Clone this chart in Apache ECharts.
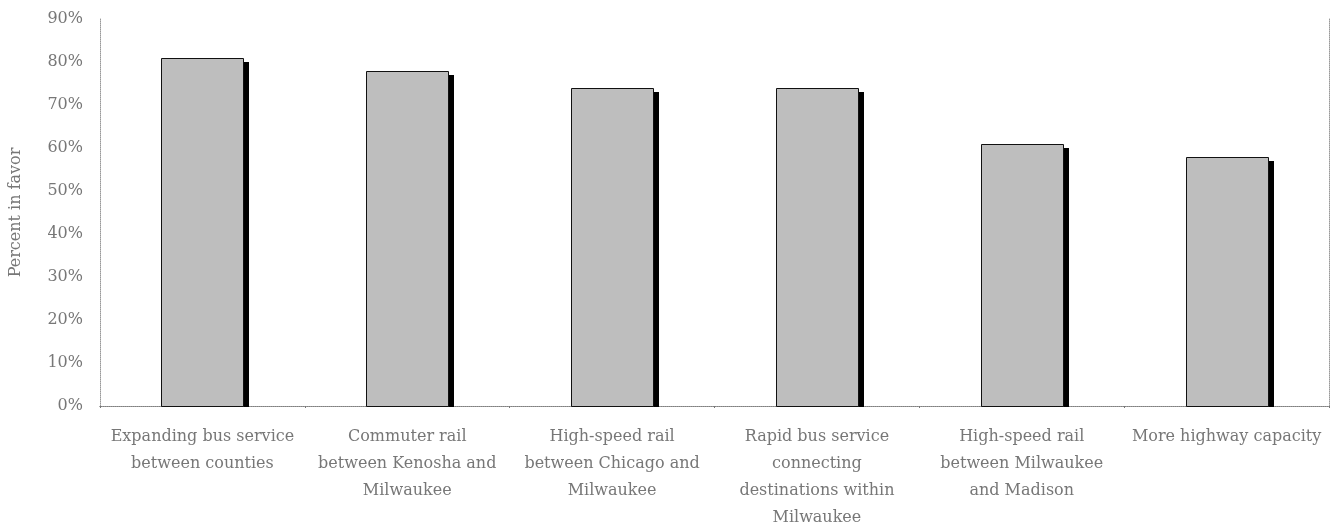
<!DOCTYPE html>
<html>
<head>
<meta charset="utf-8">
<script src="https://cdn.jsdelivr.net/npm/echarts@6/dist/echarts.min.js"></script>
<style>
  html, body { margin: 0; padding: 0; background: #fff; }
  #chart { width: 1336px; height: 531px; }
</style>
</head>
<body>
<div id="chart"></div>
<script>
// Support for transportation options
const categories = [
  'Expanding bus service\nbetween counties',
  'Commuter rail\nbetween Kenosha and\nMilwaukee',
  'High-speed rail\nbetween Chicago and\nMilwaukee',
  'Rapid bus service\nconnecting\ndestinations within\nMilwaukee',
  'High-speed rail\nbetween Milwaukee\nand Madison',
  'More highway capacity'
];
const percentInFavor = [81, 78, 74, 74, 61, 58];
const yTicks = [0, 10, 20, 30, 40, 50, 60, 70, 80, 90];

const serif = '"DejaVu Serif", "Liberation Serif", serif';
const textColor = '#777';

// Bar with a hard black drop shadow on its right side
function renderBar(params, api) {
  const idx = api.value(0);
  const val = api.value(1);
  const top = api.coord([idx, val]);
  const base = api.coord([idx, 0]);
  const w = api.size([1, 0])[0] * 0.4;
  const x0 = Math.round(top[0] - w / 2);
  const y0 = Math.round(top[1]);
  const h = Math.round(base[1]) - y0;
  const bw = Math.round(w);
  return {
    type: 'group',
    children: [{
      type: 'rect',
      shape: { x: x0 + 6, y: y0 + 4, width: bw, height: h - 3 },
      style: { fill: '#000' }
    }, {
      type: 'rect',
      shape: { x: x0 + 0.5, y: y0 + 0.5, width: bw, height: h },
      style: { fill: '#bebebe', stroke: '#111', lineWidth: 1 }
    }]
  };
}

const chart = echarts.init(document.getElementById('chart'));
chart.setOption({
  animation: false,
  grid: { left: 100, right: 7, top: 19, bottom: 125 },
  xAxis: [{
    type: 'category',
    data: categories,
    axisLine: { lineStyle: { color: '#555', width: 1 } },
    axisTick: { show: true, length: 2, lineStyle: { color: '#777' } },
    axisLabel: {
      interval: 0,
      margin: 17,
      fontFamily: serif,
      fontSize: 16,
      lineHeight: 27,
      color: textColor
    }
  }, {
    type: 'category',
    position: 'top',
    data: categories,
    axisLine: { lineStyle: { color: '#999', type: 'dotted', width: 1 } },
    axisTick: { show: false },
    axisLabel: { show: false }
  }],
  yAxis: [{
    type: 'value',
    min: yTicks[0],
    max: yTicks[yTicks.length - 1],
    interval: 10,
    name: 'Percent in favor',
    nameLocation: 'middle',
    nameGap: 76,
    nameTextStyle: { fontFamily: serif, fontSize: 16, color: textColor },
    axisLine: { show: true, lineStyle: { color: '#999', type: 'dotted' } },
    axisTick: { show: false },
    splitLine: { show: false },
    axisLabel: {
      margin: 17,
      fontFamily: serif,
      fontSize: 16,
      color: textColor,
      formatter: v => v + '%'
    }
  }, {
    type: 'value',
    position: 'right',
    min: yTicks[0],
    max: yTicks[yTicks.length - 1],
    interval: 10,
    axisLine: { show: true, lineStyle: { color: '#999', type: 'dotted' } },
    axisTick: { show: false },
    splitLine: { show: false },
    axisLabel: { show: false }
  }],
  series: [{
    type: 'custom',
    renderItem: renderBar,
    encode: { x: 0, y: 1 },
    data: percentInFavor.map((v, i) => [i, v])
  }]
});
</script>
</body>
</html>
